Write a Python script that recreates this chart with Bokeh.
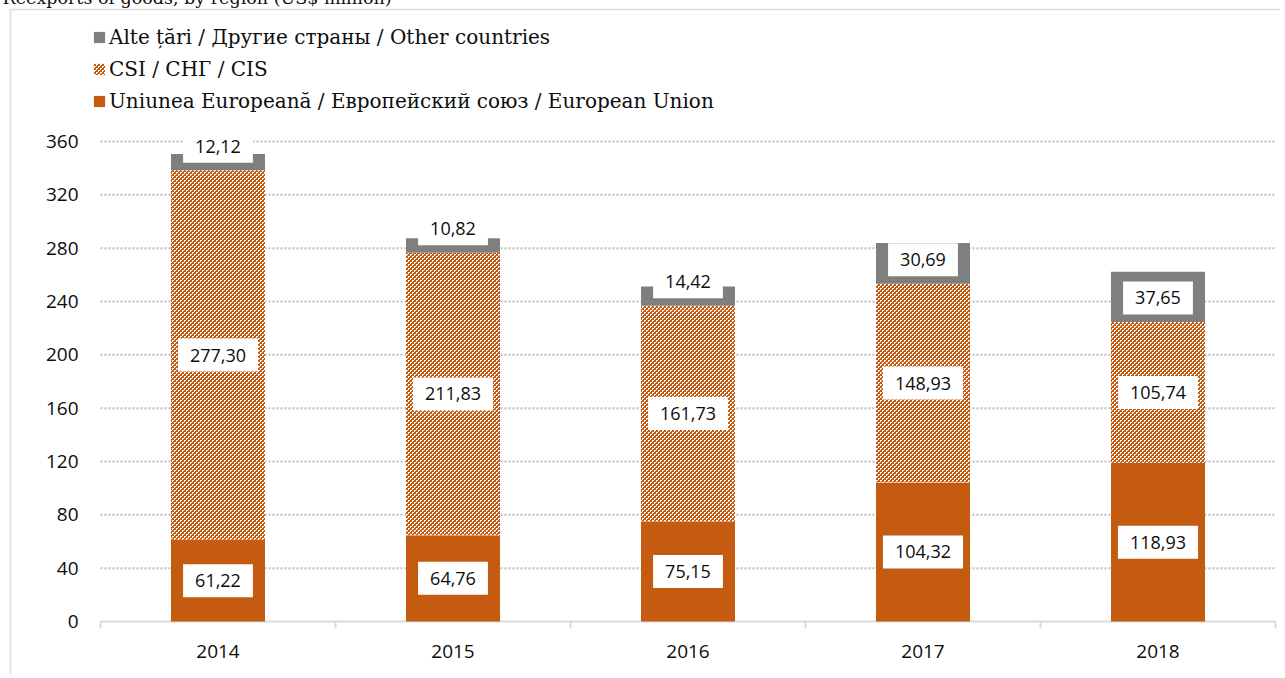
import base64, struct, zlib
from bokeh.plotting import figure
from bokeh.core.properties import value
from bokeh.models import (ColumnDataSource, Range1d, Legend, LegendItem, Label, BoxAnnotation,
                          ImageURLTexture)
from bokeh.embed import file_html
from bokeh.resources import INLINE

years = ["2014", "2015", "2016", "2017", "2018"]
eu = [61.22, 64.76, 75.15, 104.32, 118.93]
cis = [277.30, 211.83, 161.73, 148.93, 105.74]
other = [12.12, 10.82, 14.42, 30.69, 37.65]
y_ticks = [0, 40, 80, 120, 160, 200, 240, 280, 320, 360]
names = ["Alte țări / Другие страны / Other countries",
         "CSI / СНГ / CIS",
         "Uniunea Europeană / Европейский союз / European Union"]
title_text = "Reexports of goods, by region (US$ million)"

ORANGE = "#C55A11"
GREY = "#7F7F7F"
TXT = "#0d0d0d"
SERIF = "DejaVu Serif"
SANS = "Open Sans"

def fmt(v):
    return f"{v:.2f}".replace(".", ",")

# checker texture tile for the CIS series
def png_url(rows, w, h):
    raw = b"".join(b"\x00" + bytes(r) for r in rows)
    def chunk(t, d):
        return struct.pack(">I", len(d)) + t + d + struct.pack(">I", zlib.crc32(t + d) & 0xffffffff)
    png = (b"\x89PNG\r\n\x1a\n" + chunk(b"IHDR", struct.pack(">IIBBBBB", w, h, 8, 2, 0, 0, 0))
           + chunk(b"IDAT", zlib.compress(raw)) + chunk(b"IEND", b""))
    return "data:image/png;base64," + base64.b64encode(png).decode()

o = (0xC5, 0x5A, 0x11)
wh = (255, 255, 255)
tile = ["OOWW",
        "OOWO",
        "WWOO",
        "WOOO"]
rows = []
for line in tile:
    r = []
    for ch in line:
        r.extend(o if ch == "O" else wh)
    rows.append(r)
tex = ImageURLTexture(url=png_url(rows, 4, 4), repetition="repeat")

# ---- geometry of the canvas (frame = whole canvas) ----
W, H = 1280, 680
X0_PX, SLOT = 100, 235          # left edge of category 0, width of one category
Y0_PX, PPU = 627, 4.0 / 3.0     # canvas row of value 0, pixels per unit
U = 1.0 / PPU                   # units per pixel

n = len(years)
xs = [i + 0.5 for i in range(n)]
bounds = list(range(n + 1))
cis_bot = eu[:]
cis_top = [a + b for a, b in zip(eu, cis)]
oth_bot = cis_top[:]
oth_top = [a + b for a, b in zip(cis_top, other)]
src = ColumnDataSource(dict(x=xs, eu_bot=[0] * n, eu_top=eu, cis_bot=cis_bot, cis_top=cis_top,
                            oth_bot=oth_bot, oth_top=oth_top))

p = figure(x_range=Range1d(-X0_PX / SLOT, (W - X0_PX) / SLOT),
           y_range=Range1d((Y0_PX - H) * U, Y0_PX * U),
           width=W, height=H, output_backend="svg", toolbar_location=None,
           x_axis_location=None, y_axis_location=None,
           min_border=0, margin=(-6, 0, 0, 0))
p.outline_line_color = None
p.background_fill_color = "white"
p.border_fill_color = "white"
p.grid.visible = False

# grid lines (dotted)
gt = y_ticks[1:]
p.segment(x0=[0] * len(gt), x1=[n] * len(gt), y0=gt, y1=gt,
          line_color="#BFBFBF", line_width=2, line_dash="2 2")
# y tick labels
p.text(x=[0] * len(y_ticks), y=y_ticks, text=[str(t) for t in y_ticks], x_offset=-22,
       text_align="right", text_baseline="middle", text_font=value(SANS),
       text_font_size="19px", text_color=TXT)
# x axis line and boundary ticks
p.segment(x0=[0], x1=[n], y0=[0], y1=[0], line_color="#D9D9D9", line_width=2)
p.segment(x0=bounds, x1=bounds, y0=[0] * len(bounds), y1=[-7 * U] * len(bounds),
          line_color="#D9D9D9", line_width=2)
# year labels
p.text(x=xs, y=[0] * n, text=years, y_offset=30, text_align="center", text_baseline="middle",
       text_font=value(SANS), text_font_size="19px", text_color=TXT)

r_eu = p.vbar(x="x", bottom="eu_bot", top="eu_top", width=0.4, source=src,
              fill_color=ORANGE, line_color=None)
r_cis = p.vbar(x="x", bottom="cis_bot", top="cis_top", width=0.4, source=src,
               fill_color="white", line_color=None, hatch_pattern=value("chk"),
               hatch_extra={"chk": tex}, hatch_color=ORANGE)
r_oth = p.vbar(x="x", bottom="oth_bot", top="oth_top", width=0.4, source=src,
               fill_color=GREY, line_color=None)

pad = dict(left=12, right=12, top=10, bottom=10)
lab_kw = dict(text_font=SANS, text_font_size="18px", text_color=TXT,
              text_align="center", text_baseline="middle",
              background_fill_color="white", padding=pad)
for i in range(n):
    p.add_layout(Label(x=xs[i], y=eu[i] / 2, text=fmt(eu[i]), **lab_kw))
    p.add_layout(Label(x=xs[i], y=eu[i] + cis[i] / 2, text=fmt(cis[i]), **lab_kw))
    p.add_layout(Label(x=xs[i], y=oth_bot[i], y_offset=24, text=fmt(other[i]), **lab_kw))

legend = Legend(items=[LegendItem(label=names[0], renderers=[r_oth]),
                       LegendItem(label=names[1], renderers=[r_cis]),
                       LegendItem(label=names[2], renderers=[r_eu])],
                location=(92, 680 - 6 - 113), orientation="vertical",
                glyph_width=14, glyph_height=14, label_standoff=3, label_height=24,
                spacing=8, padding=0, margin=0,
                border_line_color=None, background_fill_alpha=0,
                label_text_font=SERIF, label_text_font_size="20px", label_text_color=TXT)
p.add_layout(legend, "center")

p.add_layout(BoxAnnotation(left=10, right=W + 50, top=15, bottom=H + 50,
                           left_units="canvas", right_units="canvas", top_units="canvas",
                           bottom_units="canvas", fill_alpha=0, line_color="#8C8C8C", line_width=1.5))
p.add_layout(Label(x=2, y=3, x_units="canvas", y_units="canvas", text=title_text,
                   text_font=SERIF, text_font_size="17.5px", text_color=TXT,
                   text_baseline="alphabetic"))

open("out.html", "w").write(file_html(p, INLINE))
